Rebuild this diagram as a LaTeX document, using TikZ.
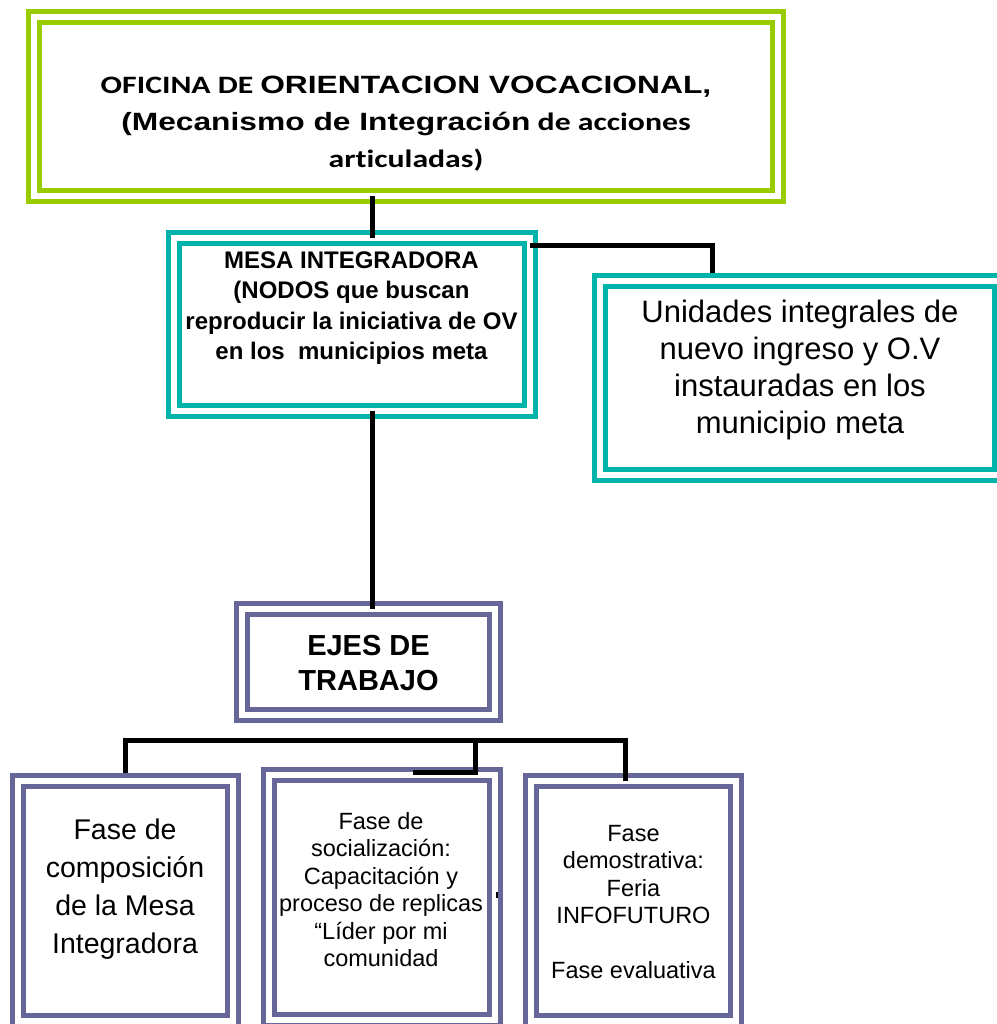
\documentclass[tikz,border=0pt]{standalone}
\usepackage{fontspec}
\setmainfont{Liberation Sans}
\newfontfamily\arialwide[FakeStretch=1.27]{Liberation Sans}
\newfontfamily\calibriwide[FakeStretch=1.27, Ligatures=NoCommon]{Carlito}
\usepackage{tikz}

\definecolor{ovgreen}{RGB}{153,204,0}
\definecolor{ovteal}{RGB}{0,180,172}
\definecolor{ovpurple}{RGB}{102,102,153}

\tikzset{
    frame/.style = {rectangle, draw = #1, line width = 5bp, double = white, double distance = 6bp, inner sep = 0, outer sep = 0},
    link/.style = {draw = black, line width = 5bp},
    boxtext/.style = {align = center, anchor = base, inner sep = 0}
}

\begin{document}
\begin{tikzpicture}[x = 1bp, y = -1bp]
                \fill [white] (0,0) rectangle (997,1024);
                \useasboundingbox (0,0) rectangle (997,1024);

                % Draw the frames:
                \node [frame = ovgreen,  minimum width = 744bp,   minimum height = 179bp] (Oficina)       at (406,106.5)   {};
                \node [frame = ovteal,   minimum width = 355.5bp, minimum height = 173bp] (Mesa)          at (351.75,324)  {};
                \node [frame = ovteal,   minimum width = 399.5bp, minimum height = 194bp] (Unidades)      at (799.75,377.5) {};
                \node [frame = ovpurple, minimum width = 253bp,   minimum height = 106.5bp] (Ejes)        at (368.5,661.75) {};
                \node [frame = ovpurple, minimum width = 214.5bp, minimum height = 240bp] (Composicion)   at (125.25,900.5) {};
                \node [frame = ovpurple, minimum width = 226bp,   minimum height = 245bp] (Socializacion) at (382,897.5)   {};
                \node [frame = ovpurple, minimum width = 205bp,   minimum height = 240bp] (Demostrativa)  at (633.5,900.5) {};

                % Draw the texts (placed at the baseline of their last line):
                \node [boxtext, font = \bfseries\fontsize{25bp}{37bp}\selectfont] (OficinaText) at (406,167)
                    {{\calibriwide OFICINA DE} {\arialwide ORIENTACION VOCACIONAL,}\\
                     {\arialwide (Mecanismo de Integración}{\calibriwide{} de acciones}\\
                     {\calibriwide articuladas)}};
                \node [boxtext, font = \bfseries\fontsize{24bp}{30.5bp}\selectfont] (MesaText) at (351.5,359.5)
                    {MESA INTEGRADORA\\(NODOS que buscan\\reproducir la iniciativa de OV\\en los \ municipios meta};
                \node [boxtext, font = \fontsize{31bp}{37bp}\selectfont] (UnidadesText) at (800,433)
                    {Unidades integrales de\\nuevo ingreso y O.V\\instauradas en los\\municipio meta};
                \node [boxtext, font = \bfseries\fontsize{29bp}{35bp}\selectfont] (EjesText) at (368.5,690)
                    {EJES DE\\TRABAJO};
                \node [boxtext, font = \fontsize{28.5bp}{38bp}\selectfont] (ComposicionText) at (125,953)
                    {Fase de\\composición\\de la Mesa\\Integradora};
                \node [boxtext, font = \fontsize{23.5bp}{27.5bp}\selectfont] (SocializacionText) at (381,966.5)
                    {Fase de\\socialización:\\Capacitación y\\proceso de replicas\\“Líder por mi\\comunidad};
                \node [boxtext, font = \fontsize{23.5bp}{27.5bp}\selectfont] (DemostrativaText) at (633.5,978.5)
                    {Fase\\demostrativa:\\Feria\\INFOFUTURO\\[27.5bp]Fase evaluativa};

                % Draw the connectors:
                \coordinate (Trunk) at (372,0);
                \coordinate (Bend) at (712,245);
                \coordinate (BusMiddle) at (475,740);
                \coordinate (BusRight) at (625,740);
                \coordinate (Stub) at (413,772);
                \draw [link] (Oficina.south -| Trunk) -- (Mesa.north -| Trunk);
                \draw [link] (Mesa.south -| Trunk) -- (Ejes.north -| Trunk);
                \draw [link, shorten >= 7.5bp] (Mesa.east |- Bend) -- (Bend) -- (Bend |- Unidades.north);
                \draw [link, shorten <= 7.5bp] (Composicion.north) |- (BusRight) -- (BusRight |- Demostrativa.north);
                \draw [link] (BusMiddle) -- (BusMiddle |- Stub) -- (Stub);
                \draw [line width = 2bp] (497,892) -- (497,898);
\end{tikzpicture}
\end{document}
